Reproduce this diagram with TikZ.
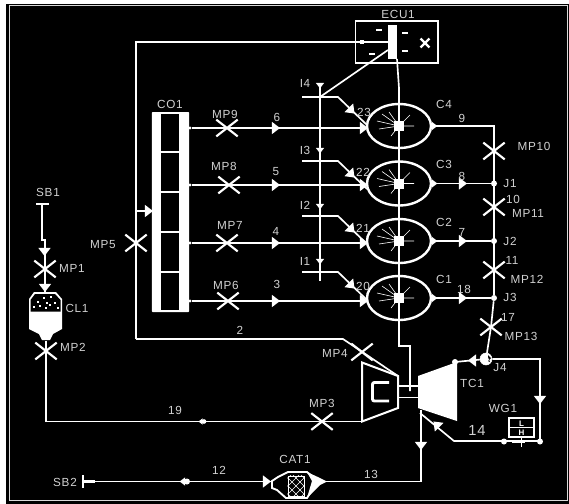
\documentclass[tikz,border=0pt]{standalone}
\usepackage{fontspec}
\setmainfont[LetterSpace=6]{Liberation Sans}
\usetikzlibrary{shapes.geometric,shapes.misc}
\definecolor{lab}{gray}{0.82}
\tikzset{
  pipe/.style={draw=white,line width=1.25pt,line join=miter},
  lbl/.style={text=lab,font=\fontsize{8.8}{9}\selectfont,inner sep=0pt},
  xmark/.style={cross out,draw=white,line width=1.6pt,minimum width=14.5pt,minimum height=11pt,inner sep=0pt},
  cyl/.style={ellipse,draw=white,fill=black,line width=1.8pt,minimum width=48pt,minimum height=33pt,inner sep=0pt},
  tipnode/.style={isosceles triangle,isosceles triangle apex angle=75,fill=white,minimum height=6pt,minimum width=6pt,inner sep=0pt},
  dotnode/.style={circle,fill=white,minimum size=4.5pt,inner sep=0pt},
  port/.style={circle,fill=white,minimum size=2.5pt,inner sep=0pt},
  tick/.style={rectangle,fill=white,minimum width=4.5pt,minimum height=2pt,inner sep=0pt},
  corebox/.style={rectangle,fill=white,minimum width=7.5pt,minimum height=7.5pt,inner sep=0pt}
}
\newcommand{\sparkat}[2]{%
  \draw[white,line width=.45pt] (#1,#2) -- +(-22,-5) (#1,#2) -- +(-20,3) (#1,#2) -- +(-17,-12) (#1,#2) -- +(-8,10)
   (#1,#2) -- +(-10,-14) (#1,#2) -- +(11,-11) (#1,#2) -- +(15,0) (#1,#2) -- +(8,-8);
}
\begin{document}
\begin{tikzpicture}[x=0.75pt,y=-0.75pt]
\useasboundingbox (0,0) rectangle (569,504);
\fill[white] (0,0) rectangle (569,504);
\fill[black] (6,4) rectangle (569,504);
\draw[white!85!black,line width=.6pt] (9,5.5) -- (567,5.5) -- (567,500.5) -- (9,500.5) -- cycle;

% named points
\coordinate (ecuL) at (388,42);
\coordinate (topL) at (136,42);
\coordinate (botL) at (136,339);
\coordinate (midL) at (343,339);
\coordinate (cpTop) at (398,376);
\coordinate (shaftA) at (399,346);
\coordinate (shaftB) at (410,346);
\coordinate (shaftC) at (410,391);
\coordinate (ecuB) at (397,59);
\coordinate (ecuB2) at (399,88);
\coordinate (ecuD) at (388,50);
\coordinate (railT) at (320,83);
\coordinate (railB) at (320,280);
\coordinate (tcO) at (455,362);
\coordinate (c9) at (494,126);
\coordinate (jr) at (540,359);
\coordinate (jrb) at (540,441);
\coordinate (wgL) at (454,441);
\coordinate (tcH) at (420,413);
\coordinate (tcD) at (421,410);
\coordinate (tcR) at (421,481.5);
\coordinate (l19a) at (46,421.5);
\coordinate (l19b) at (362,421.5);
\coordinate (sb2) at (84,481.5);
\coordinate (catL) at (272,481.5);
\coordinate (catR) at (325,481.5);
\coordinate (sb1) at (42,204);
\coordinate (sb1b) at (42,240);
\coordinate (sb1c) at (45,240);
\coordinate (clT) at (45,292);
\coordinate (clB) at (46,338);
\coordinate (co5) at (136,211);
\coordinate (co5e) at (152,211);

% ECU
\node[rectangle,draw=white,fill=black,line width=1pt,minimum width=62pt,minimum height=31.5pt,inner sep=0pt] (ecu) at (396.5,42) {};
\node[rectangle,fill=white,minimum width=6.8pt,minimum height=25.5pt,inner sep=0pt] (ecubar) at (392.5,42) {};
\node[tick] (e1) at (379,30) {};
\node[tick] (e2) at (405,33) {};
\node[tick] (e3) at (405,51) {};
\node[tick] (e4) at (372,54) {};
\node[rectangle,fill=white,minimum size=3.5pt,inner sep=0pt] (e5) at (362,42) {};
\node[cross out,draw=white,line width=1.7pt,minimum size=5pt,inner sep=0pt] (e6) at (425,43) {};
\draw[pipe] (botL) -- (topL) -- (ecuL);
\draw[pipe] (botL) -- (midL) -- (cpTop);
\draw[pipe] (ecuB) -- (ecuB2) -- (shaftA) -- (shaftB) -- (shaftC);
\draw[pipe] (ecuD) -- (320,97);

% plenum
\draw[pipe] (co5) -- (co5e);
\node[tipnode] (co5t) at (148,211) {};
\node[rectangle,fill=white,rounded corners=.5pt,minimum width=27.8pt,minimum height=150pt,inner sep=0pt] (co) at (170.5,212) {};
\fill[black] (161,113.5) rectangle (179,310);
\foreach \yy in {152,192,232,272} \draw[white,line width=.8pt] (161,\yy) -- (179,\yy);

% cylinders
\foreach \n/\yy in {C4/126,C3/183.5,C2/241,C1/298}{
  \node[cyl] (\n) at (399,\yy) {};
  \sparkat{399}{\yy}
  \node[corebox] (k\n) at (399,\yy) {};
}
\draw[pipe] (399,88) -- (399,340);

% runners
\foreach \nn/\yy/\nm in {4/128/a,3/185/b,2/243/c,1/301/d}{
  \node[port] (p\nm) at (190,\yy) {};
  \draw[pipe] (p\nm) -- (C\nn.west |- p\nm);
  \node[tipnode] (t\nm) at (275,\yy) {};
  \node[tipnode] (u\nm) at (363,\yy) {};
}

% fuel rail and injectors
\draw[white,line width=1.5pt] (railT) -- (railB);
\foreach \yy/\nm in {97/a,161/b,216/c,272/d}{
  \coordinate (ia\nm) at (302,\yy);
  \coordinate (ib\nm) at (338,\yy);
  \coordinate (ic\nm) at (367,\yy+28);
  \draw[pipe] (ia\nm) -- (ib\nm) -- (ic\nm);
  \node[tipnode,rotate=-45] (iv\nm) at (351,\yy+13) {};
  \draw[white,line width=2.2pt] (320,\yy-2) -- (320,\yy+9);
}
\foreach \yy/\nm in {85/a,150/b,206/c,261/d}
  \node[tipnode,rotate=-90,minimum height=4pt,minimum width=4pt] (rv\nm) at (320,\yy) {};

% exhaust
\foreach \n/\yy/\nm/\l in {C3/183.5/J1/a,C2/241/J2/b,C1/298/J3/c}{
  \node[dotnode] (\nm) at (494,\yy) {};
  \draw[pipe] (\n.east) -- (\nm);
  \node[tipnode] (ex\l) at (462,\yy) {};
}
\node[tipnode,minimum height=4pt,minimum width=4pt] (exd) at (434,126) {};
\draw[pipe] (C4.east) -- (c9) -- (J3);
\foreach \n/\yy in {C3/183.5,C2/241,C1/298}
  \node[tipnode,minimum height=4pt,minimum width=4pt] (ex\n) at (434,\yy) {};

% charge cooler
\draw[pipe] (sb1) -- (sb1b) -- (sb1c) -- (clT);
\draw[white,line width=1.4pt] (36,204) -- (49,204);
\node[tipnode,rotate=-90] (v1) at (44.5,251) {};
\node[tipnode,rotate=-90] (v2) at (45,287) {};
\fill[white] (34,292) -- (56,292) -- (62,299) -- (62,329) -- (53,334) -- (50,340) -- (42,340) -- (39,334) -- (29,329) -- (29,299) -- cycle;
\fill[black] (35,294) -- (55,294) -- (60.5,300) -- (60.5,311.5) -- (30.5,311.5) -- (30.5,300) -- cycle;
\foreach \a/\b in {44/298,51/297,38/302,47/303,55/303,34/307,40/306,50/305,58/308,46/308}
  \fill[white] (\a-.7,\b-.7) rectangle (\a+.7,\b+.7);
\node[rectangle,minimum size=1pt,inner sep=0pt] (cl) at (46,340) {};
\draw[pipe] (cl) -- (l19a) -- (l19b);
\node[dotnode,minimum size=3.5pt] (d19) at (204,421.5) {};
\node[tipnode,rotate=180,minimum height=3pt,minimum width=3pt] (d19b) at (201,421.5) {};

% compressor and turbine
\draw[pipe,fill=black,line width=1.5pt] (362,362.5) -- (398,376) -- (398,408) -- (362,421.5) -- cycle;
\draw[white,line width=2.2pt,rounded corners=1.5pt] (389,382.5) -- (372.5,382.5) -- (372.5,401) -- (389,401);
\draw[pipe] (398,386) -- (418,386) (398,397.5) -- (418,397.5);
\fill[white] (418,376) -- (457,362) -- (457,421) -- (418,408) -- cycle;
\node[dotnode] (tcdot) at (455,362) {};

% J4 and wastegate
\node[circle,draw=white,fill=white,minimum size=9pt,inner sep=0pt] (J4) at (486,359) {};
\fill[black] (488,355) -- (491,358) -- (488,361) -- (490,362) -- (488,357) -- cycle;
\draw[pipe] (J3) -- (491,327) -- (J4);
\draw[pipe] (J4) -- (jr) -- (jrb) -- (wgL) -- (tcH);
\draw[pipe] (J4) -- (tcO);
\node[tipnode,rotate=180] (v3) at (473,360.5) {};
\node[tipnode,rotate=-90] (v4) at (540,399) {};
\node[tipnode,rotate=135] (v5) at (437,425) {};
\node[dotnode] (w1) at (504,441.5) {};
\node[dotnode] (w2) at (540,441.5) {};
\draw[white,line width=1.6pt] (512,441.5) -- (525,441.5);
\draw[white,line width=1.2pt] (521.5,434) -- (521.5,447);
\node[rectangle,draw=white,fill=black,line width=1.3pt,minimum width=18.5pt,minimum height=14.5pt,inner sep=0pt] (wg) at (521.5,427.5) {};
\draw[white,line width=1.2pt] (wg.west) -- (wg.east);
\node[text=white,font=\bfseries\fontsize{6}{6}\selectfont,inner sep=0pt] (wgl) at (521.5,423.3) {L};
\node[text=white,font=\bfseries\fontsize{6}{6}\selectfont,inner sep=0pt] (wgh) at (521.5,432.8) {H};

% exhaust line and catalyst
\draw[pipe] (tcD) -- (tcR) -- (catR);
\node[tipnode,rotate=-90] (v6) at (421,445) {};
\draw[pipe] (sb2) -- (catL);
\draw[white,line width=1.5pt] (83,475) -- (83,488);
\draw[white,line width=2pt] (83,481.5) -- (95,481.5);
\node[dotnode] (d12) at (187,481.5) {};
\node[tipnode,rotate=180,minimum height=4pt,minimum width=4pt] (d12b) at (183,481.5) {};
\node[tipnode] (d12c) at (266,481.5) {};
\draw[pipe,fill=black,line width=1.4pt] (272,481) -- (278,477) -- (288,472) -- (307,472) -- (318,481) -- (307,498) -- (286,498) -- (277,490) -- (272,488) -- cycle;
\fill[white] (307,472) -- (320,478) -- (327,481.5) -- (320,485) -- (307,498) -- (312,481) -- cycle;
\node[rectangle,draw=white,line width=.7pt,minimum width=12pt,minimum height=15pt,inner sep=0pt] (cat) at (296,486) {};
\begin{scope}
\clip (cat.south west) rectangle (cat.north east);
\foreach \s in {-24,-16,...,24}{
  \draw[white,line width=.5pt] (296+\s-12,474) -- (296+\s+12,498);
  \draw[white,line width=.5pt] (296+\s+12,474) -- (296+\s-12,498);
}
\end{scope}

% sensors
\foreach \nm/\a/\b in {MP1/45/269,MP2/46/351,MP3/322/421.5,MP4/362/352,MP5/136/243,MP6/228/301,MP7/227/243,MP8/229/185,MP9/227/128,MP10/494/151,MP11/494/207,MP12/494/270,MP13/491/327}
  \node[xmark] (\nm) at (\a,\b) {};

% labels
\foreach \t/\a/\b in {ECU1/398/14,CO1/170/104,C4/444/104,C3/444/164,C2/444/222,C1/444/279,
 MP9/225/114,MP8/224/166,MP7/230/225,MP6/226/285,MP5/103/245,MP1/72/268,MP2/73/347,MP3/322/403,MP4/335/353,
 MP10/534/146,MP11/528/213,MP12/527/279,MP13/521/336,SB1/48/192,CL1/77/308,SB2/65/482,CAT1/295/459,
 TC1/472/383,WG1/503/408,J1/510/184,J2/510/241,J3/510/297,J4/500/368,
 I4/305/83,I3/305/150,I2/305/205,I1/305/261,
 23/364/112,22/363/172,21/363/228,20/363/286,
 6/277/117,5/276/172,4/276/231,3/277/284,2/240/330,
 9/462/118,8/462/176,7/462/232,18/464/289,10/513/199,11/512/260,17/508/317,
 19/175/410,12/219/470,13/371/474}
  \node[lbl] (lab\t) at (\a,\b) {\t};
\node[lbl,font=\fontsize{11}{11}\selectfont] (lab14) at (477,430) {14};
\end{tikzpicture}
\end{document}
